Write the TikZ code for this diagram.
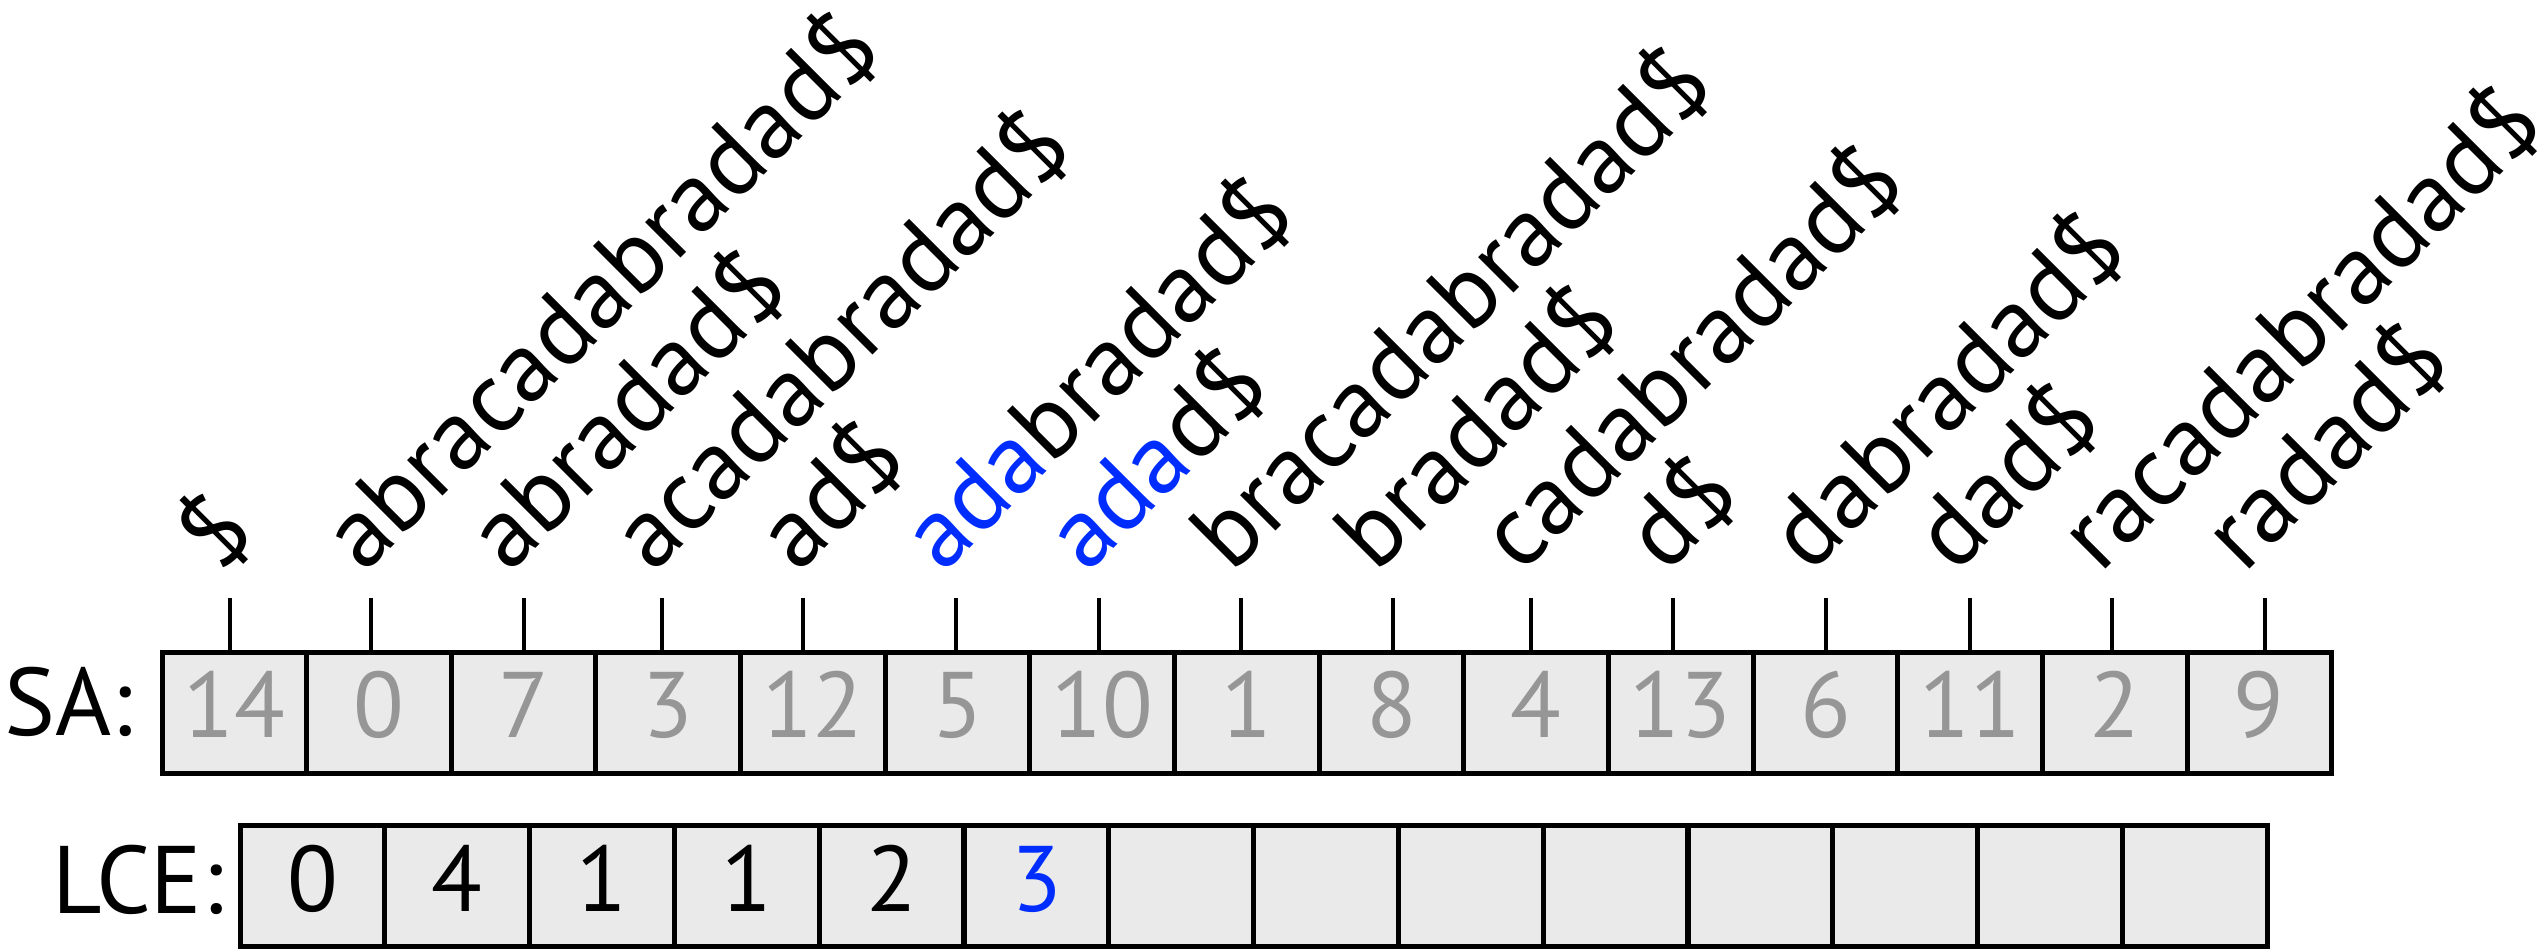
\documentclass[tikz,border=0pt]{standalone}
\usepackage{fontspec}
\setmainfont{PT Sans}
\definecolor{hl}{RGB}{0,45,255}
\definecolor{numgray}{RGB}{150,150,150}
\definecolor{cellfill}{RGB}{234,234,234}
\begin{document}
\begin{tikzpicture}[x=0.1mm, y=-0.1mm,
  cellbox/.style={draw, line width=0.5mm, fill=cellfill, minimum width=14.464mm,
    minimum height=12.1mm, inner sep=0pt, outer sep=0pt, text height=5mm, text depth=0pt,
    font=\fontsize{26.5}{26.5}\selectfont},
  sacell/.style={cellbox, text=numgray},
  lcecell/.style={cellbox, text=black},
  tick/.style={line width=0.45mm},
  lab/.style={anchor=base west, rotate=45, inner sep=0pt, font=\fontsize{28.5}{28.5}\selectfont},
  rowlab/.style={anchor=base west, inner sep=0pt, font=\fontsize{27.3}{27.3}\selectfont}]
\useasboundingbox (0,0) rectangle (2542,949);
\foreach \i/\v/\tx/\t in {0/14/230/{\$}, 1/0/371/{abracadabradad\$}, 2/7/524/{abradad\$},
  3/3/662/{acadabradad\$}, 4/12/803/{ad\$}, 5/5/956/{\textcolor{hl}{ada}bradad\$},
  6/10/1099/{\textcolor{hl}{ada}d\$}, 7/1/1241/{bracadabradad\$}, 8/8/1393/{bradad\$},
  9/4/1531/{cadabradad\$}, 10/13/1673/{d\$}, 11/6/1826/{dabradad\$}, 12/11/1970/{dad\$},
  13/2/2112/{racadabradad\$}, 14/9/2265/{radad\$}} {
  \pgfmathsetmacro\cx{162+144.64*(\i+0.5)}
  \node[sacell] (s\i) at (\cx,712.5) {\v};
  \coordinate (t\i) at (\tx,598);
  \draw[tick] (t\i) -- (t\i |- s\i.north);
  \node[lab] (l\i) at (\cx-15,575) {\t};
}
\foreach \i/\v in {0/0, 1/4, 2/1, 3/1, 4/2, 5/{\textcolor{hl}{3}}, 6/{}, 7/{}, 8/{}, 9/{},
  10/{}, 11/{}, 12/{}, 13/{}} {
  \pgfmathsetmacro\cx{240+144.8*(\i+0.5)}
  \node[lcecell] (c\i) at (\cx,886) {\v};
}
\node[rowlab] (sa) at (4,735) {SA:};
\node[rowlab] (lce) at (52,913) {LCE:};
\end{tikzpicture}
\end{document}
